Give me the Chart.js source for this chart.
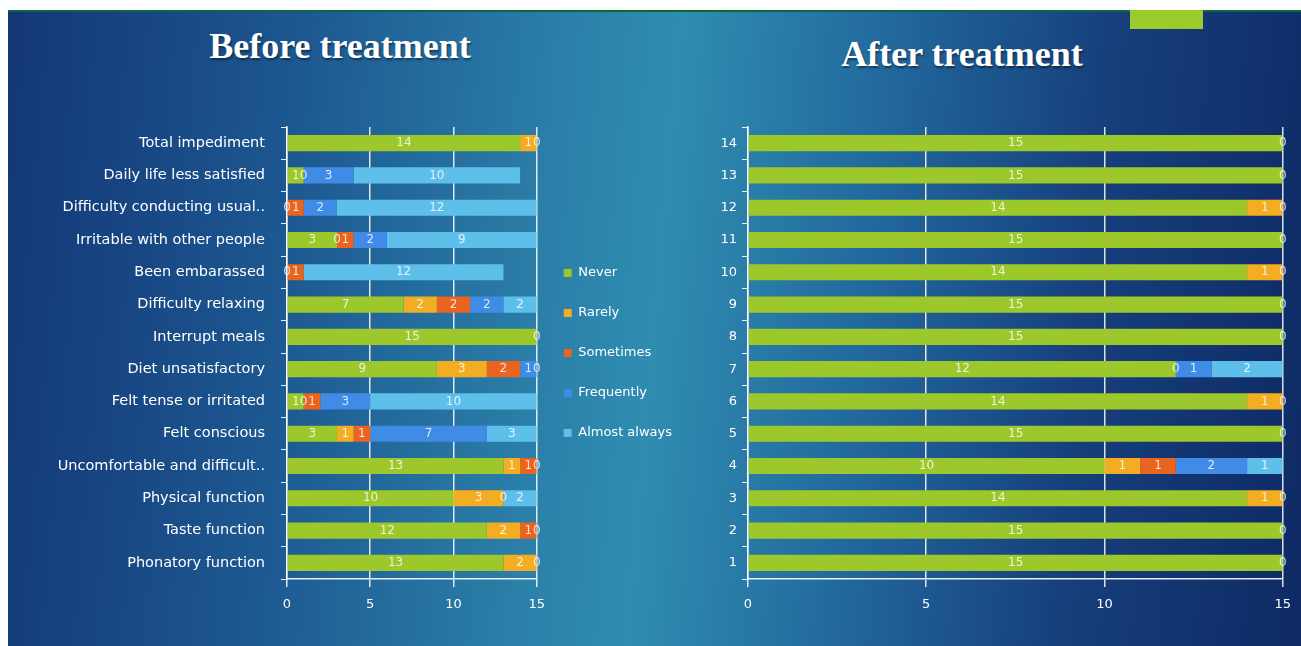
<!DOCTYPE html>
<html>
<head>
<meta charset="utf-8">
<script src="https://cdn.jsdelivr.net/npm/chart.js@4.4.1/dist/chart.umd.min.js"></script>
<style>
  html, body { margin: 0; padding: 0; background: #fff; }
  body { width: 1301px; height: 646px; position: relative; overflow: hidden; }
  .slide {
    position: absolute; left: 8px; top: 10px; width: 1293px; height: 636px;
    border-top: 2px solid #0b6a3c; box-sizing: border-box;
    background: linear-gradient(95deg, #133676 0%, #1d5891 22%, #2b80a9 42%, #2f8db0 50%, #236c9f 64%, #163f7c 82%, #0e2a64 100%);
  }
  .tab { position: absolute; left: 1130px; top: 10px; width: 73px; height: 19px; background: #9bcc2e; }
  .title {
    position: absolute; color: #fff; font-family: "Liberation Serif", serif; font-weight: bold;
    font-size: 36px; white-space: nowrap; transform: translateX(-50%);
    text-shadow: 1px 2px 2px rgba(0,0,0,0.45);
  }
  .box { position: absolute; top: 10px; height: 636px; }
</style>
</head>
<body>
<div class="slide"></div>
<div class="tab"></div>
<div class="title" style="left:340px; top:25px;">Before treatment</div>
<div class="title" style="left:962px; top:33px;">After treatment</div>
<div class="box" style="left:8px; width:712px;"><canvas id="before"></canvas></div>
<div class="box" style="left:690px; width:611px;"><canvas id="after"></canvas></div>
<script>
// series names and colours
const seriesNames = ['Never', 'Rarely', 'Sometimes', 'Frequently', 'Almost always'];
const seriesColors = ['#9cc82c', '#f2ad22', '#e8641f', '#3f8be6', '#5ec0ea'];

// before treatment, listed bottom to top (axis is reversed)
const beforeItems = [
    'Phonatory function', 'Taste function', 'Physical function', 'Uncomfortable and difficult..',
    'Felt conscious', 'Felt tense or irritated', 'Diet unsatisfactory', 'Interrupt meals',
    'Difficulty relaxing', 'Been embarassed', 'Irritable with other people',
    'Difficulty conducting usual..', 'Daily life less satisfied', 'Total impediment'
];
const beforeNever      = [13, 12, 10, 13, 3, 1, 9, 15, 7, 0, 3, 0, 1, 14];
const beforeRarely     = [2, 2, 3, 1, 1, 0, 3, 0, 2, null, 0, null, 0, 1];
const beforeSometimes  = [0, 1, 0, 1, 1, 1, 2, null, 2, 1, 1, 1, null, 0];
const beforeFrequently = [null, 0, null, 0, 7, 3, 1, null, 2, null, 2, 2, 3, null];
const beforeAlmost     = [null, null, 2, null, 3, 10, 0, null, 2, 12, 9, 12, 10, null];

// after treatment, items 1..14
const afterItems = ['1', '2', '3', '4', '5', '6', '7', '8', '9', '10', '11', '12', '13', '14'];
const afterNever      = [15, 15, 14, 10, 15, 14, 12, 15, 15, 14, 15, 14, 15, 15];
const afterRarely     = [0, 0, 1, 1, 0, 1, 0, 0, 0, 1, 0, 1, 0, 0];
const afterSometimes  = [null, null, 0, 1, null, 0, null, null, null, 0, null, 0, null, null];
const afterFrequently = [null, null, null, 2, null, null, 1, null, null, null, null, null, null, null];
const afterAlmost     = [null, null, null, 1, null, null, 2, null, null, null, null, null, null, null];

const xTicks = [0, 5, 10, 15];

Chart.defaults.font.family = '"DejaVu Sans", sans-serif';
Chart.defaults.color = '#ffffff';

// draws the value of every segment in its middle
const segmentLabels = {
    id: 'segmentLabels',
    afterDatasetsDraw(chart) {
        const ctx = chart.ctx;
        ctx.save();
        ctx.font = '12px "DejaVu Sans"';
        ctx.fillStyle = 'rgba(255,255,255,0.8)';
        ctx.textAlign = 'center';
        ctx.textBaseline = 'middle';
        chart.data.datasets.forEach((ds, i) => {
            const meta = chart.getDatasetMeta(i);
            meta.data.forEach((bar, j) => {
                const v = ds.data[j];
                if (v === null || v === undefined) return;
                const p = bar.getCenterPoint();
                ctx.fillText(String(v), p.x, p.y);
            });
        });
        ctx.restore();
    }
};

function makeDatasets(values) {
    return values.map((vals, i) => ({
        label: seriesNames[i],
        data: vals,
        backgroundColor: seriesColors[i],
        borderWidth: 0,
        categoryPercentage: 1,
        barPercentage: 0.5
    }));
}

function makeConfig(labels, values, opts) {
    return {
        type: 'bar',
        data: { labels: labels, datasets: makeDatasets(values) },
        plugins: [segmentLabels],
        options: {
            indexAxis: 'y',
            responsive: true,
            maintainAspectRatio: false,
            animation: false,
            layout: { padding: opts.padding },
            plugins: {
                title: { display: false },
                tooltip: { enabled: false },
                legend: opts.legend
            },
            scales: {
                x: {
                    stacked: true,
                    min: 0,
                    max: 15,
                    afterBuildTicks: (scale) => { scale.ticks = xTicks.map(v => ({ value: v })); },
                    grid: { color: 'rgba(255,255,255,0.85)', lineWidth: 1.5, tickLength: 8, drawTicks: true },
                    border: { color: 'rgba(255,255,255,0.9)', width: 1.5 },
                    ticks: { color: '#ffffff', font: { size: 13 }, padding: 10 },
                    afterFit: (scale) => { scale.height = 40; }
                },
                y: {
                    stacked: true,
                    reverse: true,
                    grid: { display: true, drawOnChartArea: false, color: 'rgba(255,255,255,0.9)', tickLength: 6, offset: true },
                    border: { color: 'rgba(255,255,255,0.9)', width: 1.5 },
                    ticks: { color: '#ffffff', font: { size: opts.ySize }, padding: opts.yPad, autoSkip: false },
                    afterFit: (scale) => { scale.width = opts.yWidth; }
                }
            }
        }
    };
}

new Chart(document.getElementById('before'), makeConfig(
    beforeItems,
    [beforeNever, beforeRarely, beforeSometimes, beforeFrequently, beforeAlmost],
    {
        padding: { top: 117, bottom: 27, left: 0, right: 38 },
        yWidth: 279, ySize: 14.5, yPad: 16,
        legend: {
            display: true,
            position: 'right',
            fullSize: false,
            labels: { color: '#ffffff', font: { size: 13 }, boxWidth: 8, boxHeight: 8, padding: 27 }
        }
    }
));

new Chart(document.getElementById('after'), makeConfig(
    afterItems,
    [afterNever, afterRarely, afterSometimes, afterFrequently, afterAlmost],
    {
        padding: { top: 117, bottom: 27, left: 0, right: 16 },
        yWidth: 58, ySize: 13, yPad: 5,
        legend: { display: false }
    }
));
</script>
</body>
</html>
